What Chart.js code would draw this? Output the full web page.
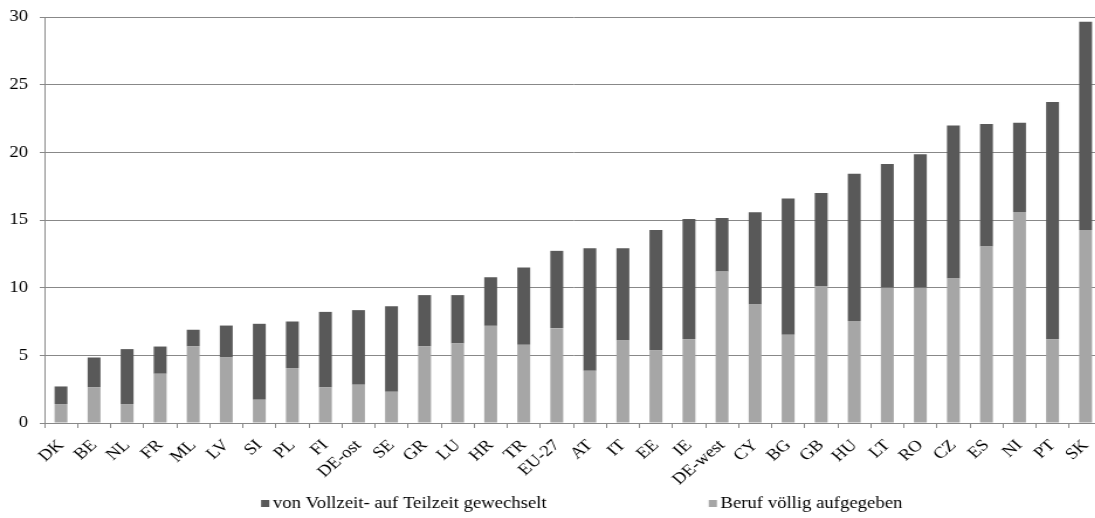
<!DOCTYPE html>
<html>
<head>
<meta charset="utf-8">
<script src="https://cdn.jsdelivr.net/npm/chart.js@4/dist/chart.umd.min.js"></script>
<style>
  html, body { margin: 0; padding: 0; background: #ffffff; overflow: hidden; }
  /* the figure is drawn 962 px wide and shown 1.17x wider */
  #wrap {
    width: 962px;
    height: 518px;
    transform: scaleX(1.17);
    transform-origin: 0 0;
  }
  #chart { display: block; }
</style>
</head>
<body>
<div id="wrap"><canvas id="chart" width="962" height="518"></canvas></div>
<script>
// Länder, sortiert nach Gesamtanteil
const laender = ['DK', 'BE', 'NL', 'FR', 'ML', 'LV', 'SI', 'PL', 'FI', 'DE-ost', 'SE', 'GR', 'LU', 'HR', 'TR', 'EU-27',
                 'AT', 'IT', 'EE', 'IE', 'DE-west', 'CY', 'BG', 'GB', 'HU', 'LT', 'RO', 'CZ', 'ES', 'NI', 'PT', 'SK'];

// Anteil "Beruf völlig aufgegeben" (unteres Segment)
const berufAufgegeben = [1.40, 2.63, 1.40, 3.64, 5.68, 4.84, 1.72, 4.06, 2.63, 2.83, 2.31, 5.68, 5.88, 7.18, 5.78, 7.01,
                         3.86, 6.10, 5.39, 6.20, 11.19, 8.75, 6.52, 10.08, 7.53, 9.99, 9.99, 10.67, 13.04, 15.60, 6.20, 14.27];

// Anteil "von Vollzeit- auf Teilzeit gewechselt" (oberes Segment)
const teilzeitGewechselt = [1.30, 2.21, 4.06, 2.01, 1.21, 2.36, 5.61, 3.44, 5.58, 5.51, 6.32, 3.77, 3.57, 3.59, 5.71, 5.71,
                            9.06, 6.82, 8.88, 8.88, 3.96, 6.82, 10.06, 6.92, 10.89, 9.15, 9.86, 11.32, 9.05, 6.59, 17.51, 15.37];

const yMin = 0, yMax = 30, yStep = 5;

const serienNamen = {
  teilzeit: 'von Vollzeit- auf Teilzeit gewechselt',
  beruf: 'Beruf völlig aufgegeben'
};

const farbeDunkel = '#595959';
const farbeHell = '#a6a6a6';
const gitterFarbe = '#888888';
const schrift = '"Liberation Serif", "Times New Roman", serif';

// Legende unterhalb der Achsenbeschriftung, zwei Einträge mit großem Abstand
const legendeUnten = {
  id: 'legendeUnten',
  afterDraw(chart) {
    const ctx = chart.ctx;
    const area = chart.chartArea;
    const eintraege = [
      { text: serienNamen.teilzeit, farbe: farbeDunkel },
      { text: serienNamen.beruf, farbe: farbeHell }
    ];
    const box = 7, textAbstand = 3, eintragAbstand = 138.5, versatz = 7.2;
    ctx.save();
    ctx.font = '16px ' + schrift;
    ctx.textBaseline = 'alphabetic';
    ctx.textAlign = 'left';
    const breiten = eintraege.map(e => box + textAbstand + ctx.measureText(e.text).width);
    const gesamt = breiten.reduce((a, b) => a + b, 0) + eintragAbstand * (eintraege.length - 1);
    let x = (area.left + area.right) / 2 - gesamt / 2 + versatz;
    const grundlinie = chart.height - 10;
    eintraege.forEach((e, i) => {
      ctx.fillStyle = e.farbe;
      ctx.fillRect(x, grundlinie - 8, box, 7);
      ctx.fillStyle = '#000000';
      ctx.fillText(e.text, x + box + textAbstand, grundlinie);
      x += breiten[i] + eintragAbstand;
    });
    ctx.restore();
  }
};

new Chart(document.getElementById('chart'), {
  type: 'bar',
  data: {
    labels: laender,
    datasets: [
      {
        label: serienNamen.beruf,
        data: berufAufgegeben,
        backgroundColor: farbeHell,
        borderWidth: 0,
        barPercentage: 0.39,
        categoryPercentage: 1.0
      },
      {
        label: serienNamen.teilzeit,
        data: teilzeitGewechselt,
        backgroundColor: farbeDunkel,
        borderWidth: 0,
        barPercentage: 0.39,
        categoryPercentage: 1.0
      }
    ]
  },
  options: {
    responsive: false,
    devicePixelRatio: 1,
    animation: false,
    layout: { padding: { top: 17, right: 20, left: 0, bottom: 0 } },
    plugins: {
      legend: { display: false },
      tooltip: { enabled: false }
    },
    scales: {
      x: {
        stacked: true,
        offset: true,
        grid: {
          display: true,
          offset: true,
          drawOnChartArea: false,
          drawTicks: true,
          tickLength: 5,
          color: gitterFarbe,
          lineWidth: 1
        },
        border: { display: true, color: gitterFarbe, width: 1 },
        ticks: {
          autoSkip: false,
          minRotation: 45,
          maxRotation: 45,
          padding: 8,
          color: '#000000',
          font: { family: schrift, size: 16 }
        },
        afterFit(scale) { scale.height = 95; }
      },
      y: {
        stacked: true,
        min: yMin,
        max: yMax,
        grid: {
          color: gitterFarbe,
          lineWidth: 1,
          drawTicks: true,
          tickLength: 4
        },
        border: { display: true, color: gitterFarbe, width: 1 },
        ticks: {
          stepSize: yStep,
          padding: 10,
          color: '#000000',
          font: { family: schrift, size: 16 }
        },
        afterFit(scale) {
          scale.width = 38;
          scale.paddingTop = 0;
          scale.paddingBottom = 0;
        }
      }
    }
  },
  plugins: [legendeUnten]
});
</script>
</body>
</html>
